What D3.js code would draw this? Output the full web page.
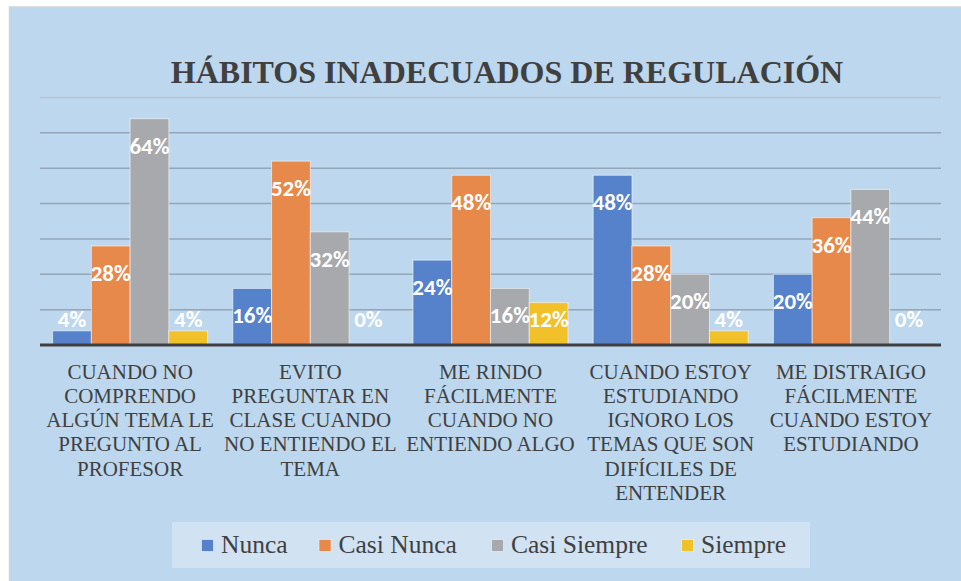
<!DOCTYPE html>
<html>
<head>
<meta charset="utf-8">
<script src="https://cdn.jsdelivr.net/npm/d3@7.9.0/dist/d3.min.js"></script>
<style>
  html, body { margin: 0; padding: 0; background: #fff; }
  svg { display: block; }
</style>
</head>
<body>
<div id="chart"></div>
<script>
const title = 'HÁBITOS INADECUADOS DE REGULACIÓN';

const categories = [
  ['CUANDO NO', 'COMPRENDO', 'ALGÚN TEMA LE', 'PREGUNTO AL', 'PROFESOR'],
  ['EVITO', 'PREGUNTAR EN', 'CLASE CUANDO', 'NO ENTIENDO EL', 'TEMA'],
  ['ME RINDO', 'FÁCILMENTE', 'CUANDO NO', 'ENTIENDO ALGO'],
  ['CUANDO ESTOY', 'ESTUDIANDO', 'IGNORO LOS', 'TEMAS QUE SON', 'DIFÍCILES DE', 'ENTENDER'],
  ['ME DISTRAIGO', 'FÁCILMENTE', 'CUANDO ESTOY', 'ESTUDIANDO'],
];

const seriesNames = ['Nunca', 'Casi Nunca', 'Casi Siempre', 'Siempre'];
const seriesColors = ['#5681cb', '#e6894a', '#a7a9ac', '#f2c12a'];

const nunca = [4, 16, 24, 48, 20];
const casiNunca = [28, 52, 48, 28, 36];
const casiSiempre = [64, 32, 16, 20, 44];
const siempre = [4, 0, 12, 4, 0];

const gridTicks = [10, 20, 30, 40, 50, 60, 70];

const seriesValues = [nunca, casiNunca, casiSiempre, siempre];

const SERIF = "'Liberation Serif'";
const LABEL_FONT = "'Carlito'";

const width = 961;
const height = 581;
const plot = { left: 40, right: 941, top: 97.5, bottom: 345 };

const svg = d3
  .select('#chart')
  .append('svg')
  .attr('width', width)
  .attr('height', height);

// chart area with thin border
svg
  .append('rect')
  .attr('x', 9.5)
  .attr('y', 7)
  .attr('width', width + 20)
  .attr('height', height + 20)
  .attr('fill', '#bdd7ee')
  .attr('stroke', '#d4d4d4')
  .attr('stroke-width', 1.5);

svg
  .append('text')
  .attr('x', 507)
  .attr('y', 83)
  .attr('text-anchor', 'middle')
  .style('font-family', SERIF)
  .style('font-weight', 'bold')
  .style('font-size', '32px')
  .attr('fill', '#404040')
  .text(title);

const xScale = d3
  .scaleBand()
  .domain(d3.range(categories.length))
  .range([plot.left, plot.right])
  .paddingInner(0.14)
  .paddingOuter(0.07);

const xSub = d3
  .scaleBand()
  .domain(d3.range(seriesNames.length))
  .range([0, xScale.bandwidth()]);

const yScale = d3.scaleLinear().domain([0, 70]).range([plot.bottom, plot.top]);

// gridlines
svg
  .append('g')
  .selectAll('line')
  .data(gridTicks)
  .join('line')
  .attr('x1', plot.left)
  .attr('x2', plot.right)
  .attr('y1', (d) => yScale(d))
  .attr('y2', (d) => yScale(d))
  .attr('stroke', (d) => (d === 70 ? '#b4c6d8' : '#95a6b7'))
  .attr('stroke-width', 1.5);

const rows = [];
seriesValues.forEach((values, s) => {
  values.forEach((v, c) => rows.push({ s, c, v }));
});

svg
  .append('g')
  .selectAll('rect')
  .data(rows.filter((d) => d.v > 0))
  .join('rect')
  .attr('x', (d) => xScale(d.c) + xSub(d.s))
  .attr('y', (d) => yScale(d.v))
  .attr('width', xSub.bandwidth())
  .attr('height', (d) => yScale(0) - yScale(d.v))
  .attr('fill', (d) => seriesColors[d.s])
  .attr('stroke', 'rgba(255,255,255,0.55)')
  .attr('stroke-width', 1);

// axis line
svg
  .append('line')
  .attr('x1', plot.left)
  .attr('x2', plot.right)
  .attr('y1', yScale(0))
  .attr('y2', yScale(0))
  .attr('stroke', '#404040')
  .attr('stroke-width', 3);

// value labels: inside the bar top, or just above the axis for short bars
svg
  .append('g')
  .selectAll('text')
  .data(rows)
  .join('text')
  .attr('x', (d) => xScale(d.c) + xSub(d.s) + xSub.bandwidth() / 2)
  .attr('y', (d) => Math.min(yScale(d.v) + 27.5, yScale(0) - 25.5) + 7.5)
  .attr('text-anchor', 'middle')
  .style('font-family', LABEL_FONT)
  .style('font-weight', 'bold')
  .style('font-size', '23px')
  .attr('fill', '#ffffff')
  .text((d) => `${d.v}%`);

// category labels
const xLabels = svg
  .append('g')
  .selectAll('text')
  .data(categories)
  .join('text')
  .attr('text-anchor', 'middle')
  .style('font-family', SERIF)
  .style('font-size', '21px')
  .attr('fill', '#404040');

xLabels
  .selectAll('tspan')
  .data((d, i) => d.map((line) => ({ line, i })))
  .join('tspan')
  .attr('x', (d) => xScale(d.i) + xScale.bandwidth() / 2)
  .attr('y', (d, j) => 378.5 + j * 24.3)
  .text((d) => d.line);

// legend
const legend = svg.append('g');
legend
  .append('rect')
  .attr('x', 172)
  .attr('y', 522)
  .attr('width', 638)
  .attr('height', 46)
  .attr('fill', '#d1e2f2');

const legendX = [201.5, 319, 491.5, 681.5];
seriesNames.forEach((name, i) => {
  legend
    .append('rect')
    .attr('x', legendX[i])
    .attr('y', 539.5)
    .attr('width', 12)
    .attr('height', 12)
    .attr('fill', seriesColors[i])
    .attr('stroke', 'rgba(255,255,255,0.5)');
  legend
    .append('text')
    .attr('x', legendX[i] + 19.5)
    .attr('y', 553)
    .style('font-family', SERIF)
    .style('font-size', '25.5px')
    .attr('fill', '#404040')
    .text(name);
});
</script>
</body>
</html>
